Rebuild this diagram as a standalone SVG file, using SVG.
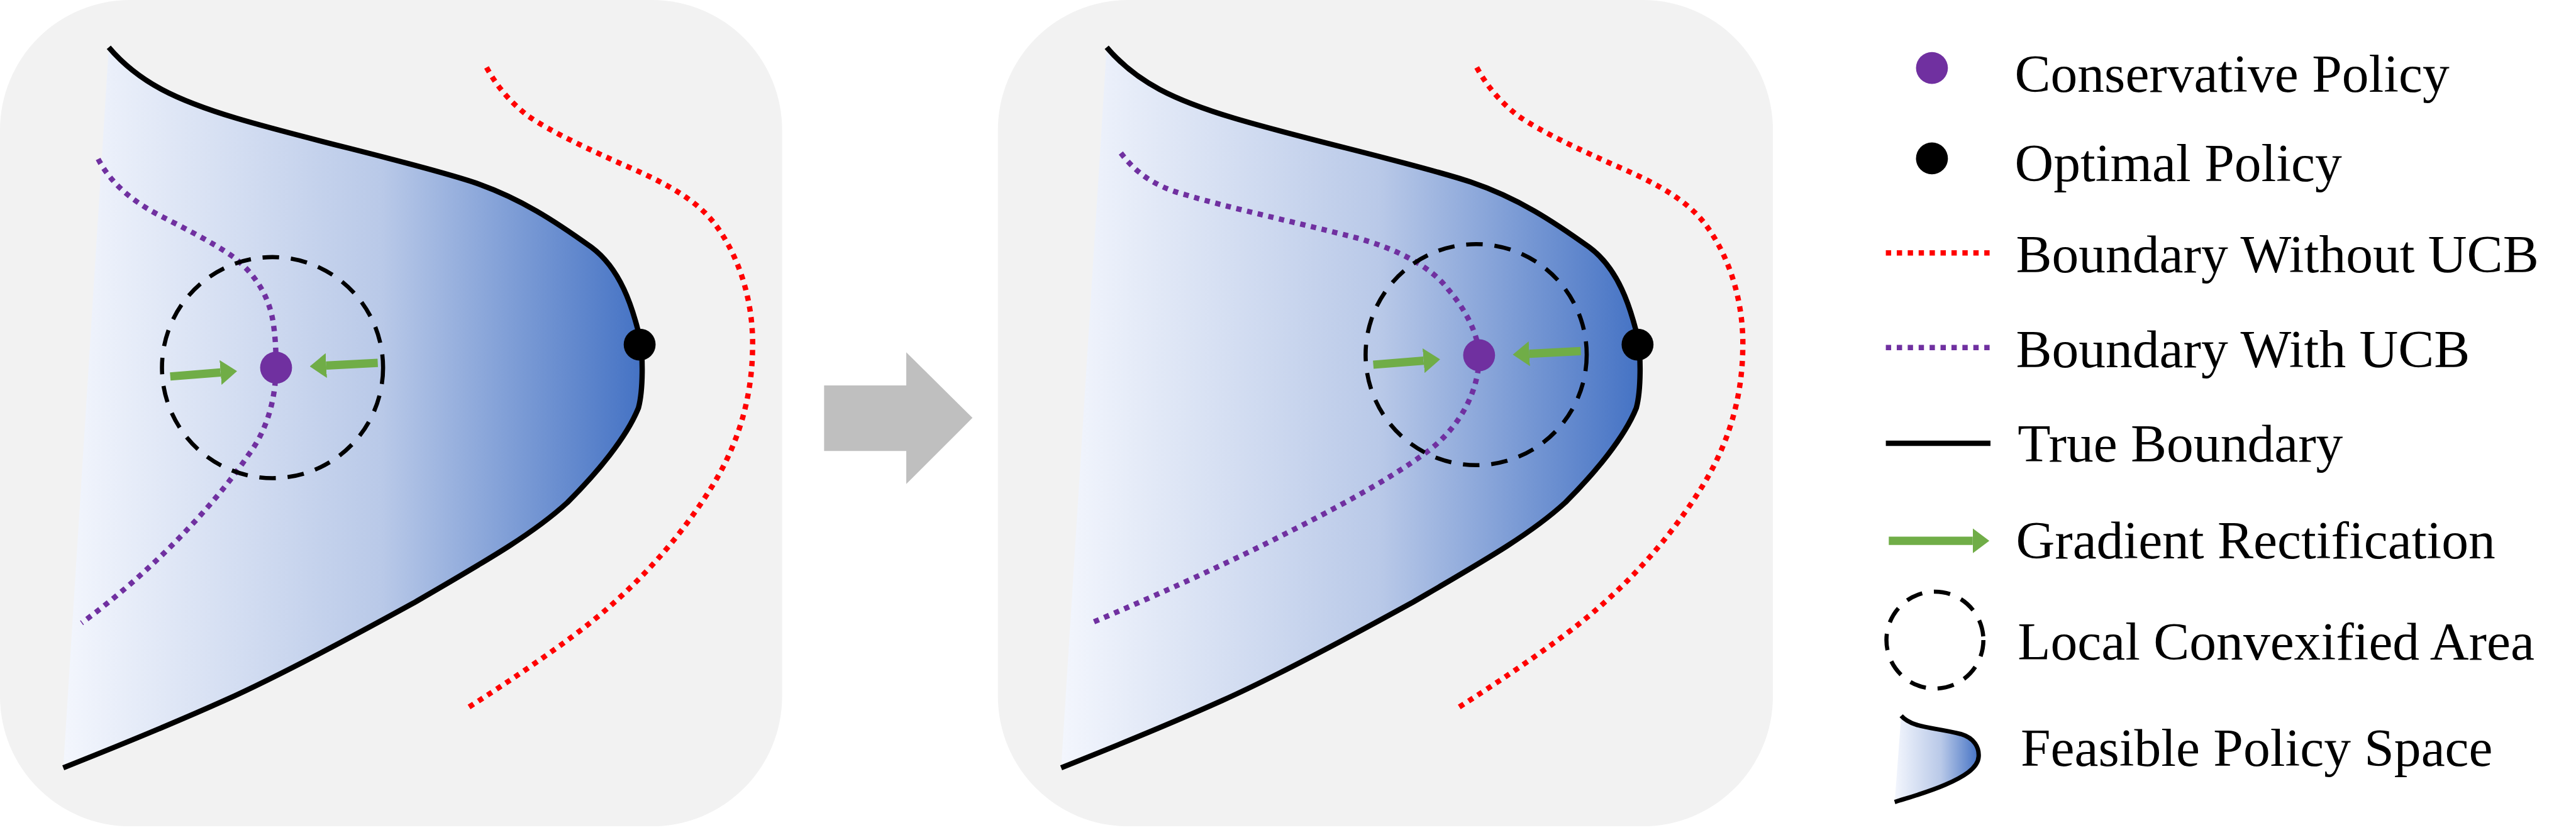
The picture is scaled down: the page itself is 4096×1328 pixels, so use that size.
<svg xmlns="http://www.w3.org/2000/svg" width="4096" height="1328" viewBox="0 0 4096 1328">
<style>
.panel{fill:#f2f2f2}
.feas{fill:url(#feasGrad);stroke:none}
.truebd{fill:none;stroke:#000;stroke-width:9;stroke-linejoin:round}
.red{fill:none;stroke:#ff0000;stroke-width:9;stroke-dasharray:9 9.5}
.purple{fill:none;stroke:#7030a0;stroke-width:9;stroke-dasharray:9 9.5}
.circ{fill:none;stroke:#000;stroke-width:7;stroke-dasharray:28 20}
.grad{fill:none;stroke:#70ad47;stroke-width:14;marker-end:url(#ghead)}
.cons{fill:#7030a0}
.opt{fill:#000}
.lbl{font-family:"Liberation Serif","Times New Roman",serif;font-size:91px;fill:#000}
</style>
<defs>
<linearGradient id="feasGrad" x1="0" y1="0" x2="1" y2="0">
<stop offset="0" stop-color="#f3f6fd"/>
<stop offset="0.55" stop-color="#b9c9e8"/>
<stop offset="1" stop-color="#4472c4"/>
</linearGradient>
<marker id="ghead" markerUnits="userSpaceOnUse" markerWidth="28" markerHeight="42" refX="0" refY="21" orient="auto" viewBox="0 0 28 42">
<path d="M0,0 L28,21 L0,42 Z" fill="#70ad47"/>
</marker>
<path id="bdry" d="M184,80 C235,140 300,170 400,200 C520,236 700,275 800,308 C880,335 940,375 1000,418 C1050,455 1070,520 1082,570 C1088,600 1088,660 1080,690 C1060,740 1010,800 960,850 C900,905 820,950 700,1020 C600,1075 480,1140 380,1185 C280,1230 180,1270 107,1299"/>
<path id="redc" d="M823,114 C840,145 860,170 893,196 C930,222 1000,255 1071,286 C1130,312 1180,340 1210,380 C1255,440 1275,520 1273,590 C1272,680 1245,760 1200,830 C1140,925 1060,1010 964,1080 C910,1120 850,1160 786,1201"/>
</defs>
<rect width="4096" height="1328" fill="#ffffff"/>
<g transform="scale(0.94)">

<g id="panel-without-rectification">
<rect class="panel" x="0" y="0" width="1323" height="1398" rx="220" ry="220"/>
<path class="feas" d="M184,80 C235,140 300,170 400,200 C520,236 700,275 800,308 C880,335 940,375 1000,418 C1050,455 1070,520 1082,570 C1088,600 1088,660 1080,690 C1060,740 1010,800 960,850 C900,905 820,950 700,1020 C600,1075 480,1140 380,1185 C280,1230 180,1270 107,1299 Z"/>
<use href="#bdry" class="truebd"/>
<use href="#redc" class="red"/>
<path class="purple" d="M166,269 C185,305 215,335 267,363 C310,385 360,410 395,435 C430,462 455,500 462,545 C465,565 467,585 467,622 C466,680 450,730 420,770 C380,830 280,950 138,1054"/>
<circle class="circ" cx="461" cy="622" r="187"/>
<circle id="optimal-1" class="opt" cx="1082" cy="583" r="27"/>
<circle id="conservative-1" class="cons" cx="467" cy="622" r="27"/>
</g>

<g id="transition-arrow">
<polygon points="1394,652 1533,652 1533,596 1645,707 1533,819 1533,763 1394,763" fill="#bfbfbf"/>
</g>

<g id="panel-with-rectification">
<rect class="panel" x="1688" y="0" width="1311" height="1398" rx="220" ry="220"/>
<g transform="translate(1688,0)">
<path class="feas" d="M184,80 C235,140 300,170 400,200 C520,236 700,275 800,308 C880,335 940,375 1000,418 C1050,455 1070,520 1082,570 C1088,600 1088,660 1080,690 C1060,740 1010,800 960,850 C900,905 820,950 700,1020 C600,1075 480,1140 380,1185 C280,1230 180,1270 107,1299 Z"/>
<use href="#bdry" class="truebd"/>
</g>
<use href="#redc" class="red" transform="translate(1675,0)"/>
<path class="purple" d="M1896,259 C1920,290 1950,315 2007,330 C2080,352 2200,378 2293,402 C2360,420 2420,450 2450,490 C2480,525 2500,565 2502,600 C2503,660 2470,720 2420,760 C2340,820 2220,880 2141,920 C2050,965 1950,1010 1846,1054"/>
<circle class="circ" cx="2497" cy="600" r="187"/>
<circle id="optimal-2" class="opt" cx="2770" cy="583" r="27"/>
<circle id="conservative-2" class="cons" cx="2502" cy="601" r="27"/>
</g>

<g id="connectors">
<line class="grad" x1="288" y1="637" x2="373.1" y2="630.2"/>
<line class="grad" x1="639" y1="614" x2="551.95" y2="618.5"/>
<line class="grad" x1="2323" y1="617" x2="2408.1" y2="610.2"/>
<line class="grad" x1="2674" y1="594" x2="2586.95" y2="598.5"/>
</g>

<g id="legend">
<g id="legend-conservative">
<circle class="cons" cx="3268" cy="115" r="27"/>
<text class="lbl" x="3408" y="155">Conservative Policy</text>
</g>
<g id="legend-optimal">
<circle class="opt" cx="3268" cy="268" r="27"/>
<text class="lbl" x="3408" y="306">Optimal Policy</text>
</g>
<g id="legend-without-ucb">
<line class="red" x1="3190" y1="428" x2="3367" y2="428"/>
<text class="lbl" x="3410" y="461">Boundary Without UCB</text>
</g>
<g id="legend-with-ucb">
<line class="purple" x1="3190" y1="588" x2="3367" y2="588"/>
<text class="lbl" x="3410" y="621">Boundary With UCB</text>
</g>
<g id="legend-true">
<line class="truebd" x1="3190" y1="750" x2="3367" y2="750" stroke-linecap="butt"/>
<text class="lbl" x="3413" y="781">True Boundary</text>
</g>
<g id="legend-gradient">
<line class="grad" x1="3195" y1="915" x2="3337" y2="915" stroke-width="13.5"/>
<text class="lbl" x="3410" y="945">Gradient Rectification</text>
</g>
<g id="legend-convex">
<circle class="circ" cx="3273" cy="1083" r="82"/>
<text class="lbl" x="3413" y="1116">Local Convexified Area</text>
</g>
<g id="legend-feasible">
<path class="feas" d="M3216,1211 C3235,1232 3270,1230 3317,1242 C3340,1249 3348,1265 3347,1280 C3346,1300 3320,1315 3290,1328 C3260,1341 3230,1349 3205,1357 Z"/>
<path d="M3216,1211 C3235,1232 3270,1230 3317,1242 C3340,1249 3348,1265 3347,1280 C3346,1300 3320,1315 3290,1328 C3260,1341 3230,1349 3205,1357" fill="none" stroke="#000" stroke-width="7.5"/>
<text class="lbl" x="3418" y="1296">Feasible Policy Space</text>
</g>
</g>

</g>
</svg>
